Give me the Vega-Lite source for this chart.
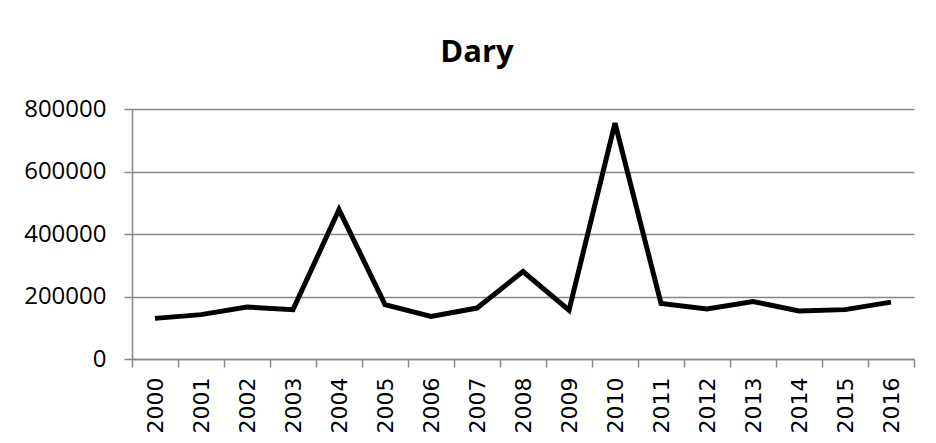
{
  "$schema": "https://vega.github.io/schema/vega-lite/v6.json",
  "width": 782,
  "height": 250,
  "autosize": {"type": "none"},
  "padding": {"left": 132, "top": 109, "right": 22, "bottom": 84},
  "background": "white",
  "title": {
    "text": "Dary",
    "font": "Open Sans",
    "fontSize": 31,
    "fontWeight": "bold",
    "color": "black",
    "anchor": "middle",
    "dx": -46,
    "offset": 28
  },
  "data": {
    "values": [
      {"year": "2000", "value": 130000},
      {"year": "2001", "value": 142000},
      {"year": "2002", "value": 166000},
      {"year": "2003", "value": 158000},
      {"year": "2004", "value": 478000},
      {"year": "2005", "value": 174000},
      {"year": "2006", "value": 136000},
      {"year": "2007", "value": 163000},
      {"year": "2008", "value": 280000},
      {"year": "2009", "value": 156000},
      {"year": "2010", "value": 755000},
      {"year": "2011", "value": 178000},
      {"year": "2012", "value": 160000},
      {"year": "2013", "value": 184000},
      {"year": "2014", "value": 154000},
      {"year": "2015", "value": 158000},
      {"year": "2016", "value": 182000}
    ]
  },
  "mark": {"type": "line", "color": "black", "strokeWidth": 5, "strokeJoin": "miter"},
  "encoding": {
    "x": {
      "field": "year",
      "type": "ordinal",
      "bandPosition": 0.5,
      "scale": {"type": "band", "paddingInner": 0, "paddingOuter": 0},
      "axis": {
        "title": null,
        "labelAngle": -90,
        "labelAlign": "right",
        "labelBaseline": "middle",
        "labelFont": "DejaVu Sans",
        "labelFontSize": 22,
        "labelColor": "black",
        "labelPadding": 10,
        "tickBand": "extent",
        "tickSize": 8,
        "tickColor": "#868686",
        "tickWidth": 1.5,
        "domainColor": "#868686",
        "domainWidth": 1.5,
        "grid": false
      }
    },
    "y": {
      "field": "value",
      "type": "quantitative",
      "scale": {"domain": [0, 800000], "nice": false},
      "axis": {
        "title": null,
        "values": [0, 200000, 400000, 600000, 800000],
        "format": "d",
        "labelFont": "Open Sans",
        "labelFontSize": 24,
        "labelColor": "black",
        "labelPadding": 18,
        "tickSize": 8,
        "tickColor": "#868686",
        "tickWidth": 1.5,
        "domainColor": "#868686",
        "domainWidth": 1.5,
        "gridColor": "#868686",
        "gridWidth": 1.5
      }
    }
  },
  "config": {"view": {"stroke": null}}
}
